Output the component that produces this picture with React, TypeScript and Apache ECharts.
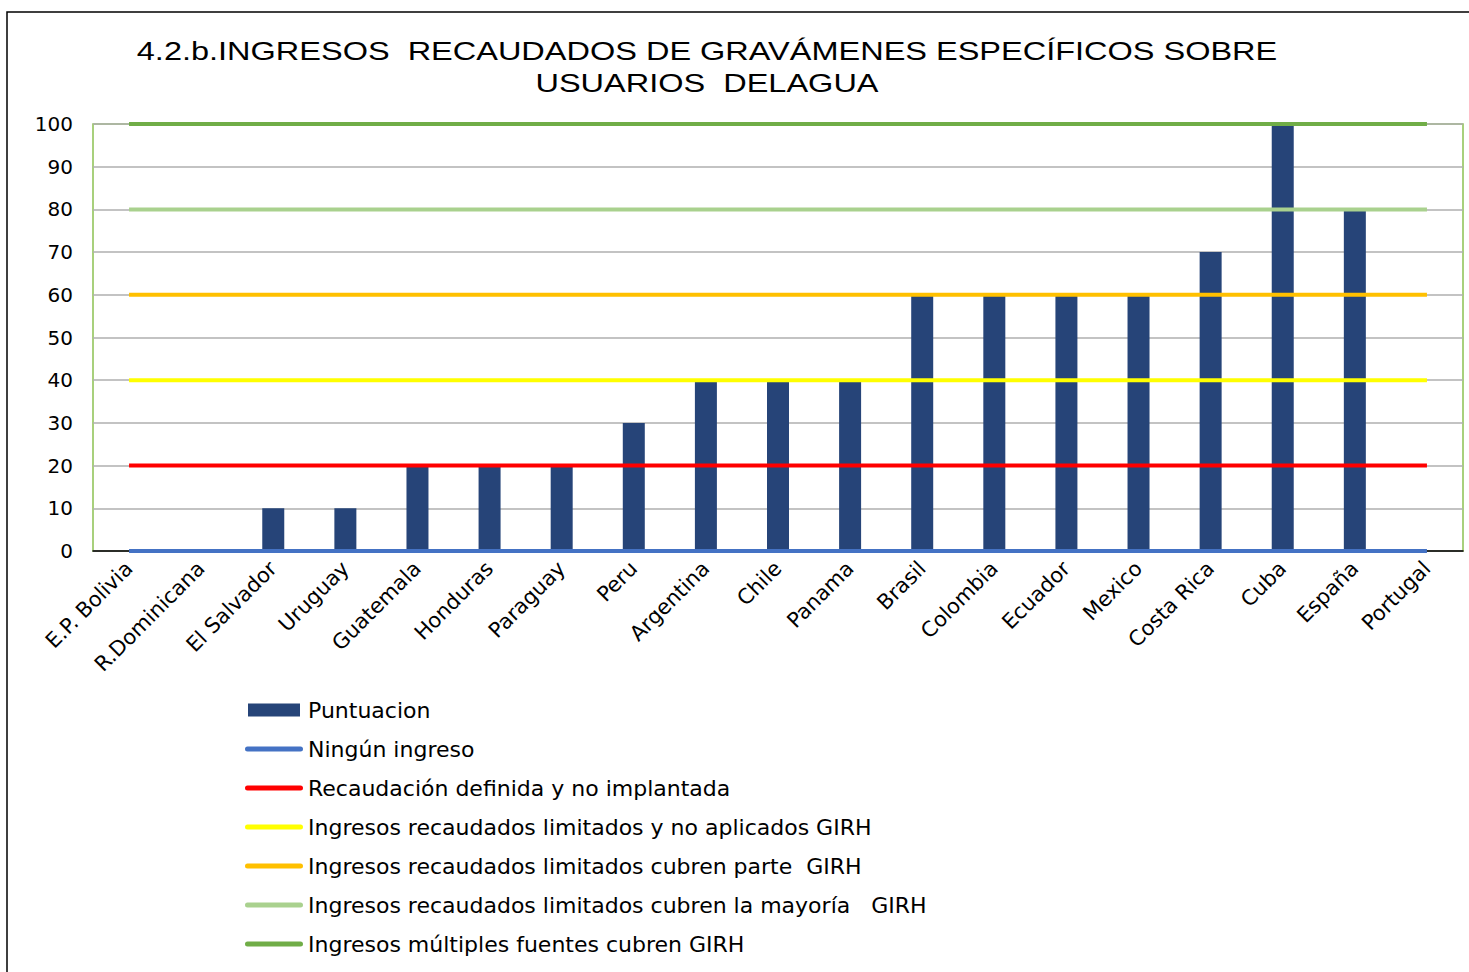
import React, { useEffect, useRef } from "react";
import * as echarts from "echarts";

const categories = [
  "E.P. Bolivia", "R.Dominicana", "El Salvador", "Uruguay", "Guatemala", "Honduras",
  "Paraguay", "Peru", "Argentina", "Chile", "Panama", "Brasil", "Colombia", "Ecuador",
  "Mexico", "Costa Rica", "Cuba", "España", "Portugal",
];
const puntuacion = [0, 0, 10, 10, 20, 20, 20, 30, 40, 40, 40, 60, 60, 60, 60, 70, 100, 80, 0];

const levelNames = [
  "Ningún ingreso",
  "Recaudación definida y no implantada",
  "Ingresos recaudados limitados y no aplicados GIRH",
  "Ingresos recaudados limitados cubren parte  GIRH",
  "Ingresos recaudados limitados cubren la mayoría   GIRH",
  "Ingresos múltiples fuentes cubren GIRH",
];
const levelValues = [0, 20, 40, 60, 80, 100];
const levelColors = ["#4472C4", "#FF0000", "#FFFF00", "#FFC000", "#A9D18E", "#70AD47"];

const titleLines = [
  "4.2.b.INGRESOS  RECAUDADOS DE GRAVÁMENES ESPECÍFICOS SOBRE",
  "USUARIOS  DELAGUA",
];

const FONT = "'Liberation Sans', Arial, sans-serif";
const WIDE = "'DejaVu Sans', sans-serif";
const LINE_ICON = "path://M2.5,0 L55.5,0 A2.5,2.5 0 0 1 55.5,5 L2.5,5 A2.5,2.5 0 0 1 2.5,0 Z";
const BAR_ICON = "path://M0,0 M58,16 M3,1.5 L55,1.5 L55,14.5 L3,14.5 Z";

export default function App() {
  const ref = useRef<HTMLDivElement>(null);
  useEffect(() => {
    if (!ref.current) return;
    const chart = echarts.init(ref.current, undefined, { renderer: "svg" });
    const lineSeries = levelNames.map((name, i) => ({
      name,
      type: "line",
      data: categories.map(() => levelValues[i]),
      symbol: "none",
      lineStyle: { color: levelColors[i], width: 4 },
      itemStyle: { color: levelColors[i] },
      z: 5,
    }));
    chart.setOption({
      animation: false,
      textStyle: { fontFamily: FONT },
      graphic: [
        {
          type: "rect",
          shape: { x: 7, y: 12, width: 1520, height: 1020 },
          style: { fill: "none", stroke: "#000", lineWidth: 1.5 },
          silent: true,
          z: -10,
        },
        ...titleLines.map((t, i) => ({
          type: "text",
          x: 707,
          y: 51 + i * 32,
          scaleX: 1.3,
          style: {
            text: t,
            font: `25px ${FONT}`,
            fill: "#000",
            textAlign: "center",
            textVerticalAlign: "middle",
          },
        })),
      ],
      grid: {
        left: 93,
        right: 6,
        top: 124,
        bottom: 421,
        show: true,
        borderColor: "#8CC152",
        borderWidth: 1.5,
        backgroundColor: "transparent",
      },
      legend: {
        orient: "vertical",
        left: 240,
        top: 694,
        bottom: 0,
        itemWidth: 58,
        itemHeight: 16,
        itemGap: 17,
        textStyle: { fontFamily: WIDE, fontSize: 22, color: "#000" },
        data: [
          { name: "Puntuacion", icon: BAR_ICON },
          ...levelNames.map((n) => ({ name: n, icon: LINE_ICON })),
        ],
      },
      xAxis: {
        type: "category",
        data: categories,
        axisLine: { show: true, lineStyle: { color: "#000", width: 1.5 } },
        axisTick: { show: false },
        axisLabel: {
          rotate: 45,
          interval: 0,
          margin: 14,
          fontFamily: WIDE,
          fontSize: 21,
          color: "#000",
        },
      },
      yAxis: {
        type: "value",
        min: 0,
        max: 100,
        interval: 10,
        axisLine: { show: false },
        axisTick: { show: false },
        splitLine: { lineStyle: { color: "#AFAFAF", width: 1.5 } },
        axisLabel: { fontFamily: WIDE, fontSize: 20, color: "#000", margin: 20 },
      },
      series: [
        {
          name: "Puntuacion",
          type: "bar",
          data: puntuacion,
          barWidth: 22,
          itemStyle: { color: "#264478" },
          z: 3,
        },
        ...lineSeries,
      ],
    });
    return () => chart.dispose();
  }, []);
  return (
    <div
      ref={ref}
      style={{ position: "absolute", left: 0, top: 0, width: 1469, height: 972, background: "#fff" }}
    />
  );
}
